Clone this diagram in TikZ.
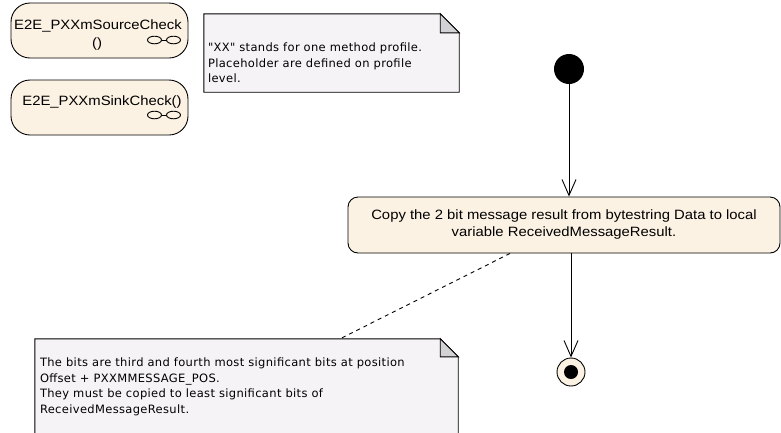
\documentclass[tikz,border=0pt]{standalone}
\usepackage{fontspec}
\setmainfont{Liberation Sans}
\newfontfamily\boxfont[FakeStretch=1.1]{Liberation Sans}
\newfontfamily\notefont[LetterSpace=3]{DejaVu Sans}
\usetikzlibrary{arrows.meta,positioning}
\definecolor{actfill}{RGB}{252,242,228}
\definecolor{notefill}{RGB}{246,243,247}
\definecolor{foldgray}{RGB}{210,209,214}

\begin{document}
\begin{tikzpicture}[
    x=1pt, y=1pt,
    opbox/.style={rectangle, draw, line width=0.9pt, fill=actfill, rounded corners=19pt, minimum width=177pt, minimum height=55pt},
    optext/.style={anchor=base, inner sep=0pt, font=\boxfont\fontsize{13.5}{18}\selectfont},
    actbox/.style={rectangle, draw, line width=0.9pt, fill=actfill, rounded corners=10pt, minimum width=432pt, minimum height=56pt, align=center, font=\boxfont\fontsize{13.5}{17}\selectfont},
    notebox/.style={rectangle, inner sep=0pt},
    notetext/.style={align=left, inner sep=0pt, font=\notefont\fontsize{11.5}{15.5}\selectfont},
    flow/.style={-{Straight Barb[length=16pt,width=14pt]}, line width=0.9pt},
    linkicon/.pic={
        \draw[line width=0.9pt] (-9.5,0) ellipse (7 and 3.8);
        \draw[line width=0.9pt] (9.5,0) ellipse (7 and 3.8);
        \draw[line width=0.9pt] (-2.5,0) -- (2.5,0);
    }
]
\clip (0,0) rectangle (781,-432);

% Operation boxes
\node[opbox] (source) at (99.5,-30.5) {};
\node[optext] (sourcename) at (98,-29) {E2E\_PXXmSourceCheck};
\node[optext] (sourceargs) at (97,-47) {()};
\pic at (164,-40) {linkicon};

\node[opbox] (sink) at (99.5,-107.5) {};
\node[optext] (sinkname) at (102,-105) {E2E\_PXXmSinkCheck()};
\pic at (164,-115) {linkicon};

% Note on profile
\node[notebox, minimum width=255pt, minimum height=78pt] (profilenote) at (331.5,-53) {};
\draw[line width=0.9pt, fill=notefill] (profilenote.south west) -- (profilenote.north west) -- ([xshift=-19pt]profilenote.north east) -- ([yshift=-19pt]profilenote.north east) -- (profilenote.south east) -- cycle;
\draw[line width=0.9pt, fill=foldgray] ([xshift=-19pt]profilenote.north east) -- ([xshift=-19pt, yshift=-19pt]profilenote.north east) -- ([yshift=-19pt]profilenote.north east) -- cycle;
\node[notetext, anchor=north west] (profiletext) at ([xshift=4pt, yshift=-29pt]profilenote.north west) {"XX" stands for one method profile.\\Placeholder are defined on profile\\level.};

% Flow
\node[circle, fill=black, minimum size=30pt, inner sep=0pt] (start) at (569,-69) {};
\node[actbox] (copy) at (564,-225) {Copy the 2 bit message result from bytestring Data to local\\variable ReceivedMessageResult.};
\node[circle, draw, line width=0.9pt, fill=actfill, minimum size=28pt, inner sep=0pt,
    path picture={\fill[black] (path picture bounding box.center) circle (7pt);}] (final) at (571,-372) {};

\draw[flow] (start) -- (start |- copy.north);
\draw[flow] (copy.south -| final) -- (final);

% Note on bits
\node[notebox, minimum width=423pt, minimum height=110pt] (bitnote) at (246.5,-394) {};
\draw[line width=0.9pt, fill=notefill] (bitnote.south west) -- (bitnote.north west) -- ([xshift=-18pt]bitnote.north east) -- ([yshift=-18pt]bitnote.north east) -- (bitnote.south east) -- cycle;
\draw[line width=0.9pt, fill=foldgray] ([xshift=-18pt]bitnote.north east) -- ([xshift=-18pt, yshift=-18pt]bitnote.north east) -- ([yshift=-18pt]bitnote.north east) -- cycle;
\node[notetext, anchor=north west] (bittext) at ([xshift=5pt, yshift=-19pt]bitnote.north west) {The bits are third and fourth most significant bits at position\\Offset + PXXMMESSAGE\_POS.\\They must be copied to least significant bits of\\ReceivedMessageResult.};

\draw[line width=0.9pt, dashed, dash pattern=on 4pt off 4pt] ([xshift=-54pt]copy.south) -- ([xshift=93.5pt]bitnote.north);

\end{tikzpicture}
\end{document}
